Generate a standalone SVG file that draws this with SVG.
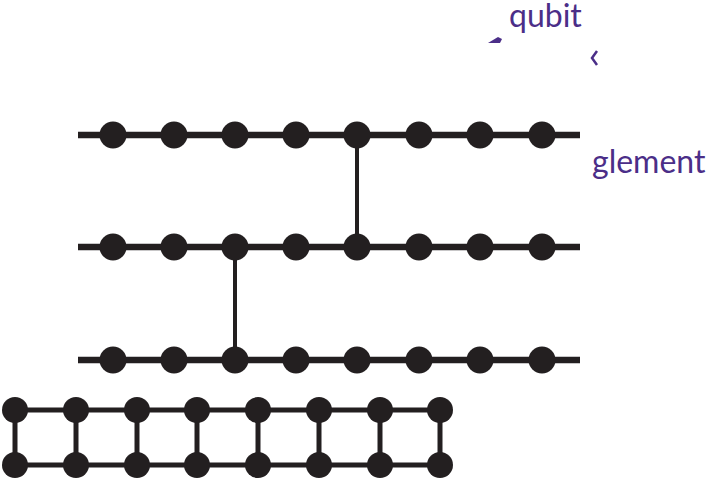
<svg xmlns="http://www.w3.org/2000/svg" width="711" height="481" viewBox="0 0 711 481">
  <style>
    .wire { stroke: #231f20; stroke-width: 6.5; fill: none; }
    .rung { stroke: #231f20; stroke-width: 4; fill: none; }
    .lad  { stroke: #231f20; stroke-width: 5; fill: none; }
    .q    { fill: #231f20; }
    .lbl  { font-family: Lato, "Open Sans", sans-serif; font-size: 32px; fill: #4b2e88; }
  </style>
  <defs>
    <circle id="dot" r="13.5" class="q"/>
    <circle id="sdot" r="13" class="q"/>
  </defs>

  <!-- connectors: chain wires, entangling links and ladder edges -->
  <g id="connectors">
    <line class="wire" x1="78" y1="135" x2="580" y2="135"/>
    <line class="wire" x1="78" y1="247" x2="580" y2="247"/>
    <line class="wire" x1="78" y1="360" x2="580" y2="360"/>
    <line class="rung" x1="357" y1="135" x2="357" y2="247"/>
    <line class="rung" x1="235" y1="247" x2="235" y2="360"/>
    <line class="lad" x1="15" y1="410" x2="440" y2="410"/>
    <line class="lad" x1="15" y1="465" x2="440" y2="465"/>
    <line class="lad" x1="15" y1="410" x2="15" y2="465"/>
    <line class="lad" x1="76" y1="410" x2="76" y2="465"/>
    <line class="lad" x1="137" y1="410" x2="137" y2="465"/>
    <line class="lad" x1="197" y1="410" x2="197" y2="465"/>
    <line class="lad" x1="258" y1="410" x2="258" y2="465"/>
    <line class="lad" x1="319" y1="410" x2="319" y2="465"/>
    <line class="lad" x1="380" y1="410" x2="380" y2="465"/>
    <line class="lad" x1="440" y1="410" x2="440" y2="465"/>
  </g>

  <!-- chain 1 -->
  <g id="r1q1"><use href="#dot" x="113" y="135"/></g>
  <g id="r1q2"><use href="#dot" x="174" y="135"/></g>
  <g id="r1q3"><use href="#dot" x="235" y="135"/></g>
  <g id="r1q4"><use href="#dot" x="296" y="135"/></g>
  <g id="r1q5"><use href="#dot" x="357" y="135"/></g>
  <g id="r1q6"><use href="#dot" x="419" y="135"/></g>
  <g id="r1q7"><use href="#dot" x="480" y="135"/></g>
  <g id="r1q8"><use href="#dot" x="542" y="135"/></g>

  <!-- chain 2 -->
  <g id="r2q1"><use href="#dot" x="113" y="247"/></g>
  <g id="r2q2"><use href="#dot" x="174" y="247"/></g>
  <g id="r2q3"><use href="#dot" x="235" y="247"/></g>
  <g id="r2q4"><use href="#dot" x="296" y="247"/></g>
  <g id="r2q5"><use href="#dot" x="357" y="247"/></g>
  <g id="r2q6"><use href="#dot" x="419" y="247"/></g>
  <g id="r2q7"><use href="#dot" x="480" y="247"/></g>
  <g id="r2q8"><use href="#dot" x="542" y="247"/></g>

  <!-- chain 3 -->
  <g id="r3q1"><use href="#dot" x="113" y="360"/></g>
  <g id="r3q2"><use href="#dot" x="174" y="360"/></g>
  <g id="r3q3"><use href="#dot" x="235" y="360"/></g>
  <g id="r3q4"><use href="#dot" x="296" y="360"/></g>
  <g id="r3q5"><use href="#dot" x="357" y="360"/></g>
  <g id="r3q6"><use href="#dot" x="419" y="360"/></g>
  <g id="r3q7"><use href="#dot" x="480" y="360"/></g>
  <g id="r3q8"><use href="#dot" x="542" y="360"/></g>

  <!-- ladder, top rail -->
  <g id="la1"><use href="#sdot" x="15" y="410"/></g>
  <g id="la2"><use href="#sdot" x="76" y="410"/></g>
  <g id="la3"><use href="#sdot" x="137" y="410"/></g>
  <g id="la4"><use href="#sdot" x="197" y="410"/></g>
  <g id="la5"><use href="#sdot" x="258" y="410"/></g>
  <g id="la6"><use href="#sdot" x="319" y="410"/></g>
  <g id="la7"><use href="#sdot" x="380" y="410"/></g>
  <g id="la8"><use href="#sdot" x="440" y="410"/></g>

  <!-- ladder, bottom rail -->
  <g id="lb1"><use href="#sdot" x="15" y="465"/></g>
  <g id="lb2"><use href="#sdot" x="76" y="465"/></g>
  <g id="lb3"><use href="#sdot" x="137" y="465"/></g>
  <g id="lb4"><use href="#sdot" x="197" y="465"/></g>
  <g id="lb5"><use href="#sdot" x="258" y="465"/></g>
  <g id="lb6"><use href="#sdot" x="319" y="465"/></g>
  <g id="lb7"><use href="#sdot" x="380" y="465"/></g>
  <g id="lb8"><use href="#sdot" x="440" y="465"/></g>

  <!-- labels and small marks -->
  <g id="labels">
    <text class="lbl" x="509" y="27" font-size="31">qubit</text>
    <text class="lbl" x="592" y="173">glement</text>
    <polygon points="488,43 498,37 502,39 500,43" fill="#4b2e88"/>
    <polyline points="597,51 592,58 597,65" fill="none" stroke="#4b2e88" stroke-width="2.5"/>
  </g>
</svg>
